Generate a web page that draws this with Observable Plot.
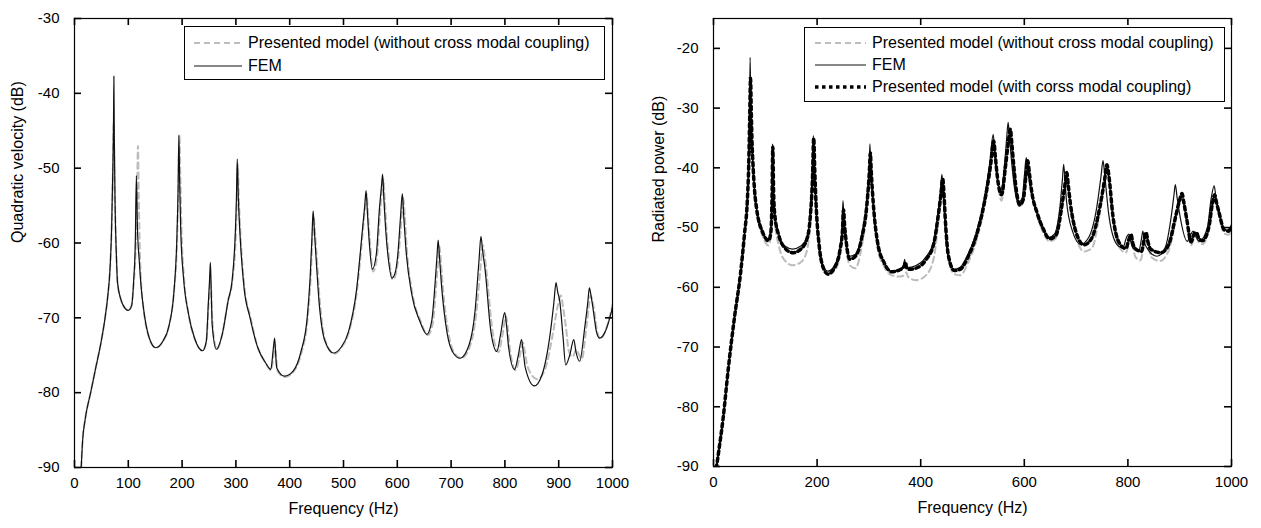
<!DOCTYPE html>
<html><head><meta charset="utf-8">
<script src="https://cdn.jsdelivr.net/npm/d3@7"></script>
<script src="https://cdn.jsdelivr.net/npm/@observablehq/plot@0.6"></script>
<style>
body{margin:0;background:#fff;width:1261px;height:528px;position:relative;overflow:hidden;font-family:"Liberation Sans",Arial,sans-serif;}
#left{position:absolute;left:0;top:0}
#right{position:absolute;left:630px;top:0}
.legend{position:absolute;border:1px solid #000;background:#fff;box-sizing:border-box;font-size:16px;color:#000}
.legend .row{position:absolute;left:0;height:22px;display:flex;align-items:center;white-space:nowrap}
.legend svg{display:block;margin-right:6px}
</style></head><body>
<div id="left"></div><div id="right"></div>
<div id="legL" class="legend"></div><div id="legR" class="legend"></div>
<script>
// ---------- data ----------
const leftXTicks = [0,100,200,300,400,500,600,700,800,900,1000];
const leftYTicks = [-90,-80,-70,-60,-50,-40,-30];
const rightXTicks = [0,200,400,600,800,1000];
const rightYTicks = [-90,-80,-70,-60,-50,-40,-30,-20];

const leftXLabel = "Frequency (Hz)";
const leftYLabel = "Quadratic velocity (dB)";
const rightXLabel = "Frequency (Hz)";
const rightYLabel = "Radiated power (dB)";

const legendLeftLabels = ["Presented model (without cross modal coupling)", "FEM"];
const legendRightLabels = ["Presented model (without cross modal coupling)", "FEM", "Presented model (with corss modal coupling)"];

// Left panel: quadratic velocity, FEM
const leftFEM = [[12.5,-90],[15,-86.5],[20,-83.5],[30,-80],[40,-76.5],[50,-73],[56,-70.4],[62,-67],[66,-63.5],[69,-58],[71,-51],[72.5,-44],[73.2,-37.7],[74,-46],[75.5,-55],[78,-62],[80,-65.3],[86,-67.5],[91,-68.4],[100,-69],[106,-68.4],[110,-65],[113,-60],[115,-51],[117,-58],[120.4,-62.4],[124,-66],[128,-68.6],[139,-72.7],[151,-74],[164.5,-73.1],[175.5,-71.1],[185,-66.4],[190,-60],[192.5,-53],[194,-45.6],[195.5,-52],[197.5,-58.4],[202.6,-64.6],[212,-69.5],[223,-72.7],[238,-74.4],[245,-73.1],[249,-67.7],[251,-65],[252.6,-62.6],[254,-66],[256,-71],[263.6,-74.2],[274.6,-72.2],[285.6,-67.7],[293,-65],[298.8,-58.8],[301,-54],[302.5,-48.8],[304.5,-54],[307.6,-58.8],[315,-65.9],[326,-69.9],[340.7,-74],[355,-76],[365,-76.9],[369,-74.5],[372,-72.7],[374,-75],[376,-76.7],[390.6,-77.8],[406.7,-77.1],[421,-74.5],[432.5,-70],[438,-64.6],[441.5,-59],[443.5,-55.7],[446,-58.5],[448.6,-61.5],[454.5,-67.8],[465.5,-73.1],[481.6,-74.7],[494.9,-74],[509.5,-71.8],[524,-66.4],[535,-58.4],[539.5,-55],[542,-53],[544.5,-56],[547.7,-59.7],[553.6,-63.5],[561,-61.5],[567,-55.2],[570.5,-52.5],[572.7,-50.8],[575,-54],[579,-58.8],[584,-62.5],[590,-64.7],[596,-64],[601,-61.5],[606,-56.5],[609.4,-53.4],[612,-56.5],[615.8,-60.6],[627,-66.9],[641.6,-70.4],[655,-72.2],[664,-70.4],[671,-64.6],[674,-61.5],[676,-59.6],[678.5,-62],[682,-65.5],[693,-72.2],[705,-74.8],[716.6,-75.4],[733.5,-73.6],[744.5,-69.1],[751.8,-62.4],[755.5,-59.1],[758.5,-61],[762.8,-63.3],[773.9,-71.8],[785,-74.5],[792,-72.2],[799.6,-69.3],[803,-71],[807,-74],[818,-76.9],[825,-75],[831,-72.9],[834,-74.5],[838,-76.7],[854.6,-79.1],[869,-77.6],[884,-72.2],[891,-68],[895,-65.3],[898,-66.5],[902,-67.8],[908,-72.5],[913,-76.3],[920.5,-75],[928,-72.9],[932,-74.5],[939,-75.8],[948.4,-71.3],[954,-68],[957,-66],[960,-67],[964.5,-69.1],[970,-71.8],[976,-72.7],[986.8,-71.8],[995,-70],[1000,-68.6]];

// Left panel: presented model without cross modal coupling
const leftModel = [[12.5,-90],[15,-86.5],[20,-83.5],[30,-80],[40,-76.5],[50,-73],[56,-70.4],[62,-67],[66,-63.5],[69,-58],[71,-52],[72.8,-44],[74.5,-52],[76,-57],[78,-62],[80,-65.3],[86,-67.5],[91,-68.4],[100,-69],[106,-68.4],[110,-65.5],[114,-60],[116.5,-52],[118,-47],[119.5,-54],[121.5,-61],[124,-65.5],[128,-68.6],[139,-72.7],[151,-74],[164.5,-73.1],[175.5,-71.1],[185,-66.4],[190.5,-60],[193,-53],[195,-45.5],[197,-52],[199,-58.4],[203.5,-64.6],[212,-69.5],[223,-72.7],[238,-74.4],[245,-73.3],[249.5,-68],[253,-65],[256,-70],[258,-72],[264.5,-74.2],[274.6,-72.2],[285.6,-67.7],[293.5,-65],[300,-58.8],[302,-54],[303.5,-49.5],[305.5,-54],[308.5,-58.8],[316,-65.9],[327,-69.9],[341,-74],[355,-76],[365,-77],[370,-75],[373,-73.5],[375,-75.5],[378,-77.2],[391,-77.9],[407,-77.2],[422,-74.6],[433.5,-70],[439,-64.6],[442.5,-59],[444.5,-56.5],[447,-58.5],[450,-61.5],[456,-67.8],[466.5,-73.1],[482.6,-74.8],[496,-74],[510.5,-71.8],[525,-66.4],[536,-58.4],[540.5,-55],[543,-53.5],[545.5,-56],[549,-59.7],[555,-63.8],[562,-62],[568,-56],[571.5,-53],[574,-51.5],[576.5,-54],[580.5,-58.8],[585.5,-62.5],[591.5,-64.9],[597,-64.2],[602.5,-61.5],[607.5,-57],[611,-54],[614,-56.5],[617.5,-60.6],[628.5,-66.9],[643,-70.4],[657,-72.3],[666,-70.7],[673,-65],[676.5,-62],[678.5,-60.5],[681,-62.5],[684.5,-65.8],[695.5,-72.2],[707,-74.8],[719,-75.4],[736,-73.6],[747,-69.3],[755,-63],[759,-60.3],[762,-61.5],[766,-64],[777,-71.8],[788,-74.6],[795,-72.5],[802,-69.8],[805.5,-71.5],[809,-74],[820,-77],[828,-75],[833.5,-73.3],[837,-74.5],[842,-76.5],[860,-78.2],[874,-77],[889,-72.2],[898,-68.5],[904,-67],[908,-68.5],[913,-71],[919,-74.5],[926,-75.2],[933,-74.2],[937,-74.8],[943,-75.5],[951,-71.5],[956,-68.5],[959,-67],[962,-67.5],[967,-69.5],[972,-72],[978,-72.8],[988,-71.5],[996,-69.5],[1000,-68.2]];

// Right panel: radiated power, FEM
const rightFEM = [[5.4,-90.3],[10,-87.5],[18.6,-81.9],[28.7,-73.5],[40.4,-65.1],[52,-57.8],[59.8,-51.1],[65.3,-45.5],[68,-39],[69.5,-32],[70.7,-21.5],[72,-30],[73.5,-35],[75.4,-38.5],[79,-43.5],[83,-46.7],[94.8,-50.6],[106,-52],[110,-50.5],[112.5,-45],[114,-36],[115.5,-44],[118,-47.5],[126,-51.1],[137.5,-53.1],[153,-53.6],[168.6,-53.1],[180,-51.7],[186,-48],[190,-42],[192.7,-34.6],[194.5,-40],[197,-45.5],[203.6,-52.8],[211,-56.2],[220.7,-57.3],[234.6,-56.2],[244,-53.4],[248,-50],[250,-45.5],[252,-49],[255.6,-52.3],[261.8,-54.8],[273.5,-54.5],[285,-51.7],[296.8,-44.4],[300.5,-40],[302,-36],[303.5,-40],[307.7,-45.5],[316,-52.3],[328,-55.6],[343.4,-57.3],[359,-57],[367,-56.3],[369,-55.3],[371,-56.5],[374.5,-56.7],[390,-56.4],[409.5,-55],[425,-52.3],[432.8,-47.8],[438,-44],[441,-41.1],[443.5,-44],[446,-48.3],[452,-54.5],[464,-57],[475.5,-56.7],[491,-54.5],[506.6,-51.1],[522,-45.5],[533.8,-38.8],[540,-34.4],[543,-37.5],[547,-41.1],[554.8,-43.9],[562.5,-38.8],[566,-35],[568.8,-32.4],[571.5,-35],[575,-38.5],[581,-43.3],[588,-45.8],[596,-45],[600.5,-41],[603.7,-38.3],[607,-40.5],[611.5,-43.3],[623,-47.2],[634.8,-50],[646,-51.7],[658,-51.1],[670,-45.5],[674,-41.5],[676,-39.4],[678.5,-42],[681.4,-45.5],[693,-50.6],[708.6,-52.8],[724,-51.7],[739.7,-46.7],[748,-41.5],[752,-38.8],[755,-41],[763,-47.8],[778.6,-52.8],[790,-53.4],[798,-51.5],[802,-51.1],[806,-52.5],[809.6,-53.4],[821,-53.9],[826,-52],[829,-50.6],[832,-52.5],[836.8,-53.4],[856,-54.8],[871.8,-53.4],[883.4,-48.3],[889,-44.5],[891.5,-42.8],[895,-45],[901,-48.3],[914.5,-52.3],[921,-51.2],[926,-50.6],[931,-51.5],[937.8,-52.3],[953.4,-50],[961,-45],[966.6,-43],[970,-45],[974,-46.7],[984.5,-50],[993,-50.5],[1000,-49.5]];

// Right panel: presented model with cross modal coupling
const rightCoupled = [[5.4,-90.3],[10,-87.5],[18.6,-81.9],[28.7,-73.5],[40.4,-65.1],[52,-57.8],[59.8,-51.1],[65.3,-45.5],[68,-39.5],[70,-31],[71.5,-25],[73,-31],[74.5,-36],[76,-39],[79.5,-44],[83.5,-47],[95,-50.8],[106,-52.2],[110.5,-51],[113,-45],[114.5,-36.5],[116,-44],[118.5,-48],[126,-51.3],[137.5,-53.4],[153,-54.2],[168.6,-53.6],[180,-52],[186.5,-48.5],[191,-42],[193.5,-35],[195.5,-40.5],[198,-46],[204,-53],[211,-56.5],[221,-57.8],[235,-56.5],[244.5,-53.6],[249,-50.5],[251,-47],[253,-49.5],[256.5,-52.6],[263,-55.3],[274,-54.8],[285.5,-52],[297.5,-44.8],[301,-40.5],[302.8,-37.5],[304.5,-40.5],[308.5,-46],[317,-52.6],[329,-55.8],[344,-57.4],[359,-57.1],[368,-56.5],[370.5,-55.8],[373,-56.8],[376,-57],[391,-56.8],[410,-55.4],[425.5,-52.6],[433.5,-48.2],[439,-44.5],[442.5,-41.8],[445,-44.5],[447.5,-48.6],[453.5,-54.7],[465,-57.2],[476,-57],[492,-54.8],[507.5,-51.3],[523,-45.8],[535,-39.5],[541,-35.5],[544,-38],[548,-41.5],[556,-44.5],[564,-39.5],[569.5,-35.5],[573,-33.5],[576,-36],[579.5,-39.5],[585,-44],[591,-46.2],[598,-45.3],[603,-41.5],[606.5,-38.8],[610,-41],[614,-43.8],[625,-47.6],[637,-50.3],[649,-51.9],[661,-51.3],[674,-45.5],[679,-42.5],[682,-40.8],[685,-43],[689,-46],[700,-50.8],[715,-52.9],[730,-51.8],[746,-46.5],[755,-42],[759.5,-39.5],[763.5,-41.5],[771,-48],[785,-52.8],[796,-53.5],[802.5,-51.8],[806,-51.2],[810,-52.8],[815,-53.6],[826,-54],[831,-52.2],[835,-50.8],[839,-52.5],[844,-53.6],[864,-54.2],[879,-52.8],[892,-48.2],[899.5,-45.5],[904.5,-44.3],[908,-45.8],[914,-48.8],[922,-52.4],[928,-51],[932,-50.8],[937,-51.8],[944,-52.2],[957,-49.6],[963,-46],[967.5,-44.5],[971,-45.8],[976,-47.5],[986,-50.4],[994,-50.6],[1000,-49.8]];

// Right panel: presented model without cross modal coupling
const rightModel = [[5.4,-90.3],[10,-87.5],[18.6,-81.9],[28.7,-73.5],[40.4,-65.1],[52,-57.8],[59.8,-51.1],[65.3,-45.5],[68,-39.5],[70,-31],[71.5,-25.5],[73,-31],[74.5,-36],[76,-39],[79.5,-44.5],[83.5,-47.5],[95,-51.5],[106,-53],[110.5,-51.5],[113,-45],[114.5,-37],[116,-44.5],[118.5,-49],[126,-53],[137.5,-55.5],[153,-56.3],[168.6,-55.8],[180,-54],[186.5,-49.5],[191,-42.5],[193.5,-35.5],[195.5,-41],[198,-46.5],[204,-53.5],[211,-56.5],[221,-57.5],[235,-57],[244.5,-54.5],[249,-51],[251,-47.5],[253,-50],[256.5,-53.5],[263,-56.3],[274,-56.8],[285.5,-53.5],[297.5,-45.5],[301,-41],[302.8,-38],[304.5,-41],[308.5,-46.5],[317,-53.5],[329,-56.5],[344,-58],[359,-58.2],[368,-58],[372,-57.5],[376,-58.3],[391,-58.8],[410,-58],[425.5,-55],[433.5,-49.5],[439,-45],[442.5,-42],[445,-45],[447.5,-49],[453.5,-55.3],[465,-57.8],[476,-58],[492,-55.8],[507.5,-52.2],[523,-46.5],[535,-40],[541,-35.8],[544,-38.5],[548,-42],[556,-45.5],[564,-40],[569.5,-36],[573,-34],[576,-36.5],[579.5,-40],[585,-44.5],[591,-46.5],[598,-45.6],[603,-41.5],[606.5,-39],[610,-41.2],[614,-44],[625,-48],[637,-51],[649,-52.3],[661,-51.8],[674,-46],[679,-43],[682,-41.2],[685,-43.5],[689,-46.5],[700,-51.5],[715,-54],[730,-53.5],[746,-47.5],[755,-42.5],[759.5,-40],[763.5,-42],[771,-48.5],[785,-53.5],[796,-54.2],[802.5,-52.5],[806,-51.8],[810,-53.5],[815,-55],[824,-55.5],[831,-53],[835,-51.2],[839,-53],[846,-55],[862,-55.6],[879,-53.8],[892,-49],[899.5,-46],[904.5,-44.8],[908,-46.2],[914,-49.2],[922,-53],[928,-51.8],[932,-51.5],[937,-52.5],[944,-52.8],[957,-50],[963,-46.2],[967.5,-44.8],[971,-46],[976,-48],[986,-51],[994,-51.2],[1000,-50.3]];

// ---------- styles ----------
const STY = {
  model: {stroke: "#bdbdbd", width: 2, dash: "6,4"},
  fem: {stroke: "#111", width: 1.2, dash: null},
  coupled: {stroke: "#000", width: 3.5, dash: "3.5,3.5"}
};

function panel(o) {
  const H = 528;
  const fw = o.width - o.ml - o.mr;   // frame width in px
  const fh = H - o.mt - o.mb;         // frame height in px
  const TL = 7;                       // inward tick length in px
  const [y0, y1] = o.yDomain, [x0, x1] = [0, 1000];
  const dyTick = TL * (y1 - y0) / fh; // tick length expressed in y units
  const dxTick = TL * (x1 - x0) / fw; // tick length expressed in x units
  const marks = [];
  for (const s of o.series) {
    marks.push(Plot.line(s.data, {x: d => d[0], y: d => d[1], stroke: s.sty.stroke, strokeWidth: s.sty.width,
      strokeDasharray: s.sty.dash, strokeLinejoin: "round", curve: "monotone-x", clip: true}));
  }
  marks.push(Plot.frame({stroke: "#000", strokeWidth: 1.2}));
  const tk = {stroke: "#000", strokeWidth: 1.6, strokeOpacity: 1};
  marks.push(Plot.ruleX(o.xTicks, {x: d => d, y1: () => y0, y2: () => y0 + dyTick, ...tk}));
  marks.push(Plot.ruleX(o.xTicks, {x: d => d, y1: () => y1, y2: () => y1 - dyTick, ...tk}));
  marks.push(Plot.ruleY(o.yTicks, {y: d => d, x1: () => x0, x2: () => x0 + dxTick, ...tk}));
  marks.push(Plot.ruleY(o.yTicks, {y: d => d, x1: () => x1, x2: () => x1 - dxTick, ...tk}));
  marks.push(Plot.axisX(o.xTicks, {tickSize: 0, tickPadding: 10, label: null, tickFormat: d => String(d), fontSize: 15}));
  marks.push(Plot.axisY(o.yTicks, {tickSize: 0, tickPadding: 15, label: null, tickFormat: d => String(d), fontSize: 15}));
  marks.push(Plot.text([o.xLabel], {frameAnchor: "bottom", dy: 46, text: d => d, fontSize: 16, fill: "#000"}));
  marks.push(Plot.text([o.yLabel], {frameAnchor: "left", rotate: -90, dx: o.yLabelDx, text: d => d, fontSize: 16, fill: "#000"}));
  return Plot.plot({
    width: o.width, height: H,
    marginLeft: o.ml, marginRight: o.mr, marginTop: o.mt, marginBottom: o.mb,
    x: {domain: [x0, x1]},
    y: {domain: o.yDomain},
    style: {fontFamily: '"Liberation Sans", Arial, sans-serif', fontSize: "15px", color: "#000", background: "#fff", overflow: "visible"},
    marks
  });
}

document.getElementById("left").append(panel({
  width: 620, ml: 74, mr: 8, mt: 18, mb: 61,
  yDomain: [-90, -30], xTicks: leftXTicks, yTicks: leftYTicks,
  xLabel: leftXLabel, yLabel: leftYLabel, yLabelDx: -57,
  series: [{data: leftModel, sty: STY.model}, {data: leftFEM, sty: STY.fem}]
}));
document.getElementById("right").append(panel({
  width: 631, ml: 83, mr: 30, mt: 18, mb: 62,
  yDomain: [-90, -15], xTicks: rightXTicks, yTicks: rightYTicks,
  xLabel: rightXLabel, yLabel: rightYLabel, yLabelDx: -55,
  series: [{data: rightModel, sty: STY.model}, {data: rightFEM, sty: STY.fem}, {data: rightCoupled, sty: STY.coupled}]
}));

function legend(id, box, labels, stys, sampleLeft, sampleW, rowTops) {
  const el = document.getElementById(id);
  Object.assign(el.style, {left: box[0] + "px", top: box[1] + "px", width: box[2] + "px", height: box[3] + "px"});
  labels.forEach((lab, i) => {
    const s = stys[i];
    const row = document.createElement("div");
    row.className = "row";
    row.style.top = rowTops[i] + "px";
    row.style.left = sampleLeft + "px";
    const ns = "http://www.w3.org/2000/svg";
    const svg = document.createElementNS(ns, "svg");
    svg.setAttribute("width", sampleW); svg.setAttribute("height", 10);
    const ln = document.createElementNS(ns, "line");
    ln.setAttribute("x1", 0); ln.setAttribute("x2", sampleW); ln.setAttribute("y1", 5); ln.setAttribute("y2", 5);
    ln.setAttribute("stroke", s.stroke); ln.setAttribute("stroke-width", s.width);
    if (s.dash) ln.setAttribute("stroke-dasharray", s.dash);
    svg.append(ln);
    const sp = document.createElement("span");
    sp.textContent = lab;
    row.append(svg, sp);
    el.append(row);
  });
}
legend("legL", [184, 26, 421, 54], legendLeftLabels, [STY.model, STY.fem], 9, 48, [5, 28]);
legend("legR", [804, 27, 421, 75], legendRightLabels, [STY.model, STY.fem, STY.coupled], 10, 51, [4, 26, 48]);
</script>
</body></html>
